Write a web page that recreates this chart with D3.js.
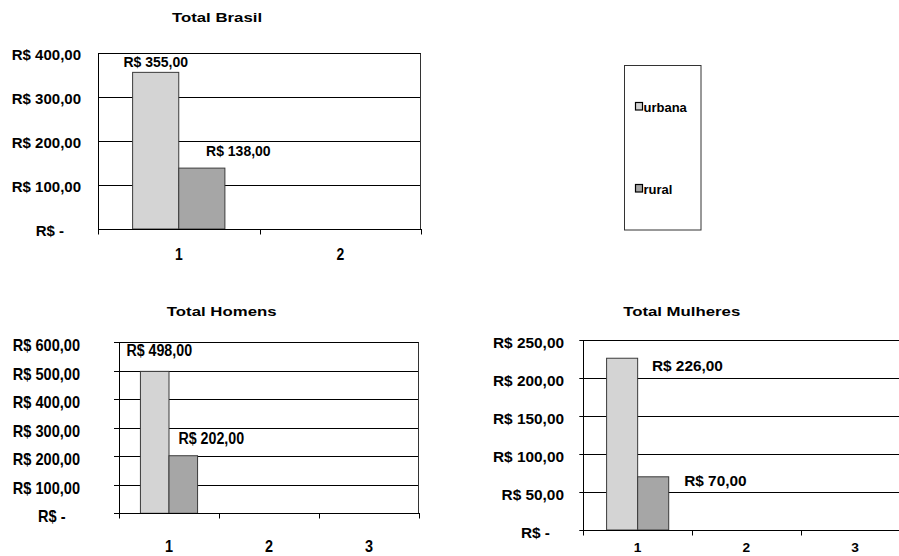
<!DOCTYPE html>
<html><head><meta charset="utf-8">
<script src="https://cdn.jsdelivr.net/npm/d3@7"></script>
<style>
body{margin:0;background:#fff}
svg{display:block}
text{font-family:"Liberation Sans",Arial,sans-serif;font-weight:bold;fill:#000}
</style>
</head><body>
<svg id="c" width="899" height="556"></svg>
<script>
const seriesNames = ["urbana", "rural"];
const seriesColors = ["#d4d4d4", "#a6a6a6"];

const brasilCategories = ["1", "2"];
const brasilUrbana = [355, null];
const brasilRural = [138, null];
const brasilTicks = [0, 100, 200, 300, 400];

const homensCategories = ["1", "2", "3"];
const homensUrbana = [498, null, null];
const homensRural = [202, null, null];
const homensTicks = [0, 100, 200, 300, 400, 500, 600];

const mulheresCategories = ["1", "2", "3"];
const mulheresUrbana = [226, null, null];
const mulheresRural = [70, null, null];
const mulheresTicks = [0, 50, 100, 150, 200, 250];

const chartTitles = ["Total Brasil", "Total Homens", "Total Mulheres"];

const fmt = v => v === 0 ? "R$ -" : "R$ " + d3.format(".2f")(v).replace(".", ",");

const svg = d3.select("#c");

function stretchText(g, x, y, str, size, sx, anchor, sy) {
  return g.append("text")
    .attr("transform", `translate(${x},${y}) scale(${sx},${sy || 1})`)
    .attr("text-anchor", anchor)
    .style("font-size", size + "px")
    .text(str);
}

function drawChart(categories, series, ticks, title, L) {
  const g = svg.append("g");
  const x = d3.scaleBand().domain(categories).range([L.x0, L.x1]).padding(0);
  const xs = d3.scaleBand().domain(seriesNames).range([0, x.bandwidth()]).paddingInner(0).paddingOuter(0.75);
  const y = d3.scaleLinear().domain([0, d3.max(ticks)]).range([L.y1, L.y0]);

  // gridlines (incl. top border)
  g.selectAll(".grid").data(ticks.filter(t => t > 0)).enter().append("line")
    .attr("x1", L.x0 - L.tickSize).attr("x2", L.x1)
    .attr("y1", d => Math.round(y(d)) + 0.5).attr("y2", d => Math.round(y(d)) + 0.5)
    .attr("stroke", "#000").attr("stroke-width", 1);
  // right border
  g.append("line").attr("x1", Math.round(L.x1) - 0.5).attr("x2", Math.round(L.x1) - 0.5)
    .attr("y1", Math.round(L.y0) + 0.5).attr("y2", Math.round(L.y1) + 0.5)
    .attr("stroke", "#333");

  // bars
  series.forEach((vals, si) => {
    g.selectAll(".b" + si).data(categories.map((c, i) => ({c, v: vals[i]})).filter(d => d.v != null))
      .enter().append("rect")
      .attr("x", d => x(d.c) + xs(seriesNames[si]))
      .attr("width", xs.bandwidth())
      .attr("y", d => y(d.v))
      .attr("height", d => y(0) - y(d.v))
      .attr("fill", seriesColors[si])
      .attr("stroke", "#3a3a3a").attr("stroke-width", 1);
  });

  // y axis line
  g.append("line").attr("x1", Math.round(L.x0) + 0.5).attr("x2", Math.round(L.x0) + 0.5)
    .attr("y1", Math.round(L.y0)).attr("y2", Math.round(L.y1) + 5)
    .attr("stroke", "#000");
  // x axis line
  g.append("line").attr("x1", L.x0 - L.tickSize).attr("x2", L.x1)
    .attr("y1", Math.round(y(0)) + 0.5).attr("y2", Math.round(y(0)) + 0.5)
    .attr("stroke", "#000");
  // x ticks at category boundaries
  const bounds = categories.map(c => x(c)).concat([L.x1]);
  g.selectAll(".xt").data(bounds).enter().append("line")
    .attr("x1", d => Math.round(d) + 0.5).attr("x2", d => Math.round(d) + 0.5)
    .attr("y1", Math.round(y(0))).attr("y2", Math.round(y(0)) + 5.5)
    .attr("stroke", "#000");

  // y tick labels
  ticks.forEach(t => {
    stretchText(g, L.yLabelX - (t === 0 ? L.zeroShift : 0), y(t) + L.yLabelDy, fmt(t), L.yFont, L.ySx, "end", L.ySy);
  });
  // category labels
  categories.forEach(c => {
    stretchText(g, x(c) + x.bandwidth() / 2, L.catBaseline, c, L.catFont, L.catSx, "middle", L.catSy);
  });
  // data labels
  series.forEach((vals, si) => {
    categories.forEach((c, i) => {
      if (vals[i] == null) return;
      const cx = x(c) + xs(seriesNames[si]) + xs.bandwidth() / 2 + L.labelOff[si][0];
      const cy = y(vals[i]) + L.labelOff[si][1];
      stretchText(g, cx, cy, fmt(vals[i]), L.labelFont, L.labelSx, "middle", L.labelSy);
    });
  });
  // title
  stretchText(g, L.titleX, L.titleY, title, 12, 1.4, "middle");
}

drawChart(brasilCategories, [brasilUrbana, brasilRural], brasilTicks, chartTitles[0], {
  x0: 98, x1: 421, y0: 52.5, y1: 229, tickSize: 0,
  yLabelX: 81, zeroShift: 17, yLabelDy: 7, yFont: 15, ySx: 1,
  catFont: 16, catSx: 0.87, catBaseline: 260,
  labelFont: 14, labelSx: 1, labelOff: [[0, -5.7], [36.5, -11.7]],
  titleX: 217, titleY: 22
});

drawChart(homensCategories, [homensUrbana, homensRural], homensTicks, chartTitles[1], {
  x0: 119, x1: 419, y0: 342.3, y1: 513.3, tickSize: 5,
  yLabelX: 80, zeroShift: 14.5, yLabelDy: 9, yFont: 15, ySx: 0.97, ySy: 1.05,
  catFont: 17, catSx: 0.85, catBaseline: 552,
  labelFont: 15, labelSx: 0.95, labelSy: 1.05, labelOff: [[4.5, -15.4], [28, -11.7]],
  titleX: 221.7, titleY: 315.7
});

drawChart(mulheresCategories, [mulheresUrbana, mulheresRural], mulheresTicks, chartTitles[2], {
  x0: 583.3, x1: 909.4, y0: 340, y1: 530, tickSize: 4,
  yLabelX: 564, zeroShift: 14, yLabelDy: 7.5, yFont: 14, ySx: 1.1,
  catFont: 12.5, catSx: 1.1, catBaseline: 552,
  labelFont: 14, labelSx: 1.1, labelOff: [[65.3, 12.8], [62.2, 8.9]],
  titleX: 681.7, titleY: 315.7
});

// legend
const lg = svg.append("g");
lg.append("rect").attr("x", 624.5).attr("y", 65.5).attr("width", 76.5).attr("height", 164.5)
  .attr("fill", "none").attr("stroke", "#333");
const legendY = [102.5, 184.5];
seriesNames.forEach((s, i) => {
  lg.append("rect").attr("x", 635.5).attr("y", legendY[i]).attr("width", 7).attr("height", 7.5)
    .attr("fill", seriesColors[i]).attr("stroke", "#000").attr("stroke-width", 1.2);
  lg.append("text").attr("x", 643.5).attr("y", legendY[i] + 9).style("font-size", "13px").text(s);
});
</script>
</body></html>
